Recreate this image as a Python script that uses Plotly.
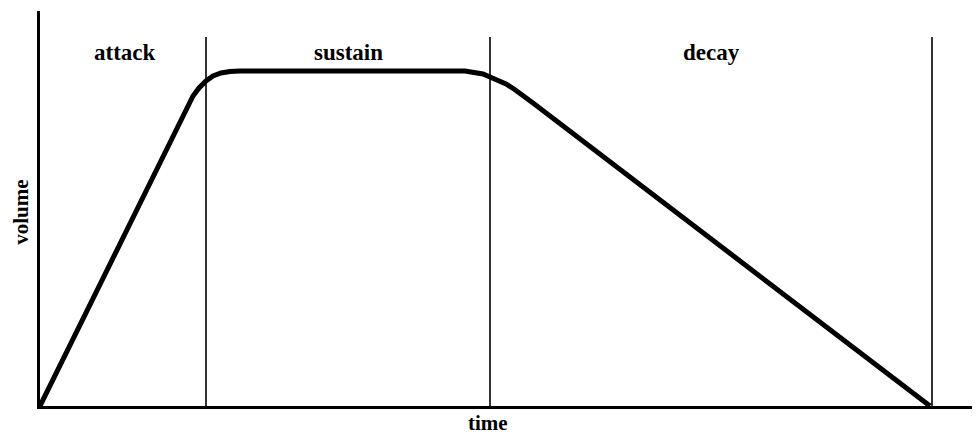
import plotly.graph_objects as go

# Envelope curve (time, volume)
time = [0, 137, 143, 148, 153, 159, 166, 173, 181, 190, 200,
        425, 435, 443, 450, 458, 466, 474, 482, 493, 890]
volume = [0, 276, 288, 300, 310, 318, 325, 330, 333, 334.5, 335,
          335, 334, 332, 329, 326, 322, 317, 311, 303, 0]

# Phase boundaries (time) and label positions
boundaries = [166, 450, 892]
boundary_top = 369
phase_names = ["attack", "sustain", "decay"]
phase_label_x = [85, 308, 671]
phase_label_y = 354

FONT = "Liberation Serif"

fig = go.Figure()

for b in boundaries:
    fig.add_trace(go.Scatter(x=[b, b], y=[0, boundary_top], mode="lines",
                             line=dict(color="black", width=1.6),
                             hoverinfo="skip", showlegend=False))

fig.add_trace(go.Scatter(x=time, y=volume, mode="lines",
                         line=dict(color="black", width=5),
                         showlegend=False))

for name, lx in zip(phase_names, phase_label_x):
    fig.add_annotation(x=lx, y=phase_label_y, text="<b>" + name + "</b>", showarrow=False,
                       font=dict(family=FONT, size=23, color="black"),
                       xref="x", yref="y")

fig.add_annotation(x=0.4766, y=-0.043, text="<b>time</b>", showarrow=False,
                   xref="paper", yref="paper", xanchor="center", yanchor="middle",
                   borderpad=0,
                   font=dict(family=FONT, size=21, color="black"))
fig.add_annotation(x=-0.0205, y=0.491, text="<b>volume</b>", showarrow=False,
                   xref="paper", yref="paper", xanchor="center", yanchor="middle",
                   textangle=-90, borderpad=0,
                   font=dict(family=FONT, size=21, color="black"))

fig.update_xaxes(range=[0, 940], showline=True, linecolor="black", linewidth=2.5,
                 showgrid=False, zeroline=False, showticklabels=False, ticks="")
fig.update_yaxes(range=[0, 395], showline=True, linecolor="black", linewidth=2.5,
                 showgrid=False, zeroline=False, showticklabels=False, ticks="")
fig.update_layout(width=972, height=427, margin=dict(l=32, r=0, t=3, b=29),
                  plot_bgcolor="white", paper_bgcolor="white")

fig.write_html("out.html")
